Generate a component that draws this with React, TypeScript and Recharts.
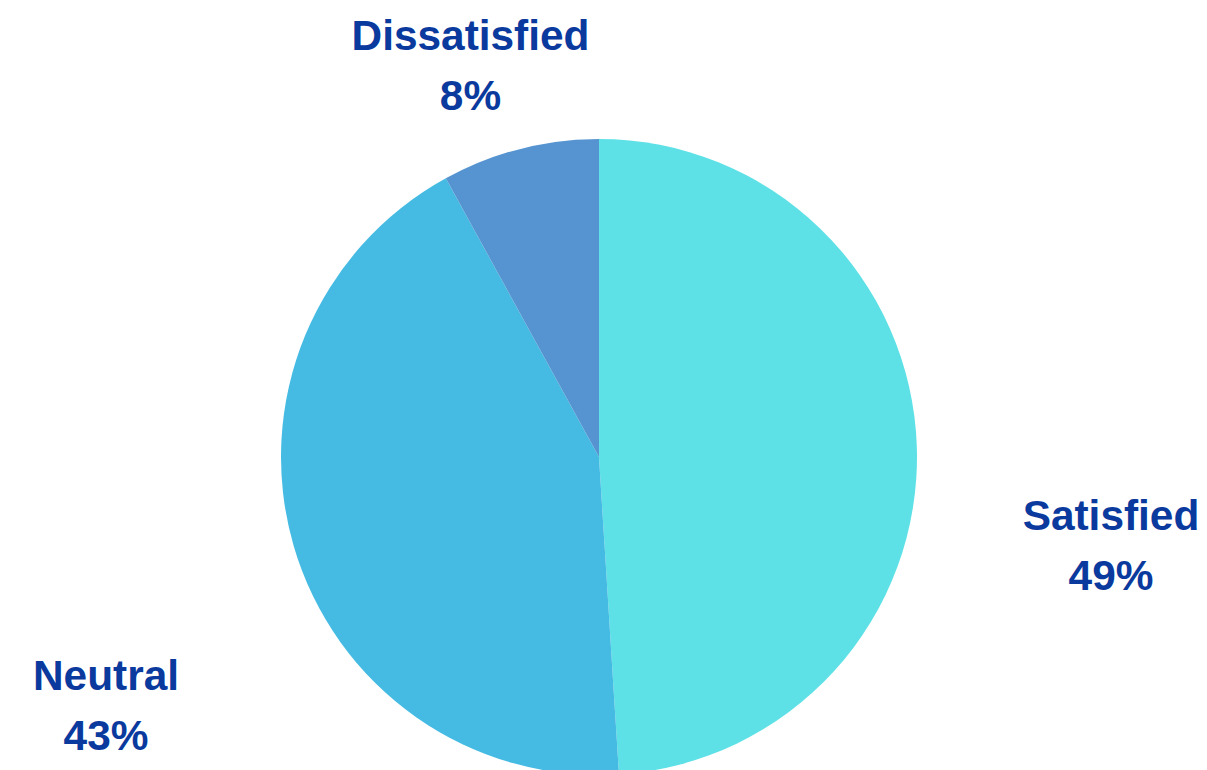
import React from "react";
import { PieChart, Pie, Cell } from "recharts";

const categories = ["Satisfied", "Neutral", "Dissatisfied"];
const values = [49, 43, 8];
const colors = ["#5DE1E6", "#45BBE3", "#5594D0"];

// label anchor offsets (first-line baseline) relative to pie centre
const labelOffsets = [
  { dx: 512, dy: 73 },
  { dx: -493, dy: 233 },
  { dx: -128.5, dy: -407 },
];

const total = values.reduce((a, b) => a + b, 0);
const data = categories.map((name, i) => ({
  name,
  value: values[i],
  pct: `${Math.round((values[i] / total) * 100)}%`,
}));

const renderLabel = (props: any) => {
  const { cx, cy, index } = props;
  const off = labelOffsets[index];
  const x = cx + off.dx;
  const y = cy + off.dy;
  return (
    <text
      x={x}
      y={y}
      textAnchor="middle"
      fill="#0A3A9E"
      style={{ fontFamily: "'Liberation Sans', Arial, sans-serif", fontWeight: 700, fontSize: 42.4 }}
    >
      <tspan x={x} y={y}>{data[index].name}</tspan>
      <tspan x={x} y={y + 60}>{data[index].pct}</tspan>
    </text>
  );
};

export default function App() {
  return (
    <div style={{ position: "absolute", left: 0, top: 0, width: 1207, height: 770, background: "#ffffff" }}>
      <PieChart width={1207} height={770} margin={{ top: 0, right: 0, bottom: 0, left: 0 }}>
        <Pie
          data={data}
          dataKey="value"
          nameKey="name"
          cx={599}
          cy={457}
          outerRadius={318}
          innerRadius={0}
          startAngle={90}
          endAngle={-270}
          stroke="none"
          label={renderLabel}
          labelLine={false}
          isAnimationActive={false}
        >
          {data.map((d, i) => (
            <Cell key={d.name} fill={colors[i]} stroke="none" />
          ))}
        </Pie>
      </PieChart>
    </div>
  );
}
